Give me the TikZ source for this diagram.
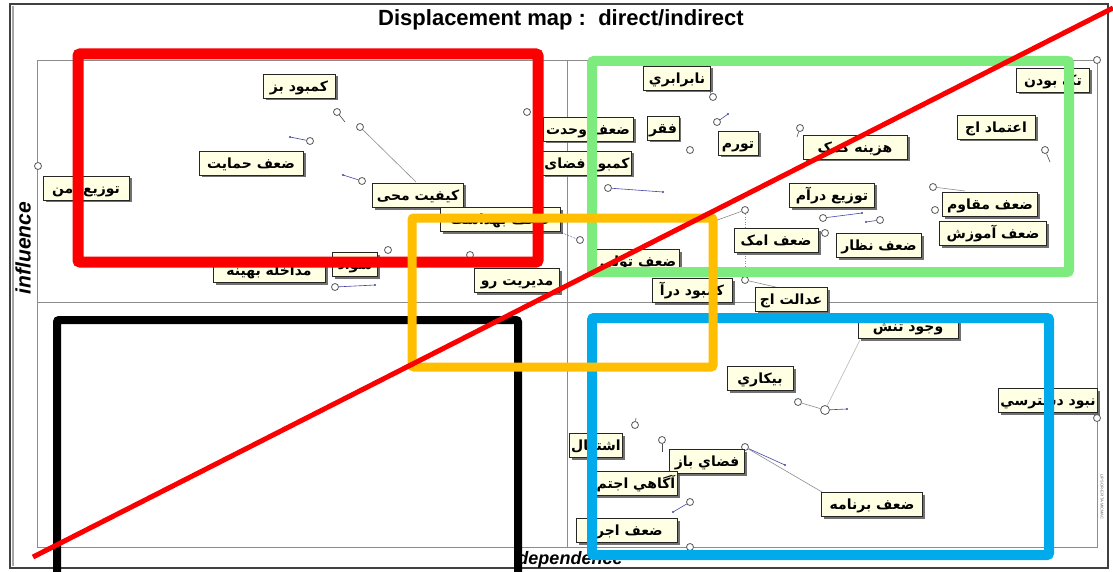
\documentclass[tikz,border=0pt]{standalone}
\usepackage{fontspec}
\setmainfont{Liberation Sans}
\newfontfamily\arabicfont[Script=Arabic]{DejaVu Sans}
\TeXXeTstate=1
\usetikzlibrary{shadows}
\definecolor{labfill}{RGB}{255,255,228}
\definecolor{mred}{RGB}{250,0,0}
\definecolor{mgreen}{RGB}{125,235,125}
\definecolor{morange}{RGB}{255,190,0}
\definecolor{mblue}{RGB}{0,170,235}
\definecolor{mnavy}{RGB}{70,70,170}
\tikzset{
 lab/.style={draw=black!85, line width=0.7pt, fill=labfill, minimum height=24pt, inner xsep=2pt, inner ysep=1pt,
   text height=13pt, text depth=2pt,
   font=\arabicfont\bfseries\fontsize{14}{16}\selectfont,
   drop shadow={shadow xshift=2.5pt, shadow yshift=-2.5pt, fill=black!65, opacity=0.85}},
 pnt/.style={circle, draw=black!65, fill=white, line width=0.8pt, inner sep=0pt, minimum size=7pt},
 lnk/.style={draw=black!45, line width=0.6pt},
 blk/.style={draw=mnavy, line width=0.6pt},
 zone/.style={line width=10pt, rounded corners=2pt},
 frm/.style={draw=black!45, line width=0.7pt},
}
\begin{document}
\begin{tikzpicture}[x=1pt,y=-1pt]
\useasboundingbox (0,0) rectangle (1113,572);
\fill[white] (0,0) rectangle (1113,572);
% outer frame
\draw[black!75, line width=1.5pt] (10,4) rectangle (1108,568);
\draw[black!35, line width=1.5pt] (13,6) -- (13,566);
% plot frame and mid lines
\draw[frm] (37,60) rectangle (1097,547);
\draw[frm] (567,60) -- (567,547);
\draw[frm] (37,302) -- (1097,302);
% title and axis labels
\node[font=\bfseries\fontsize{22}{24}\selectfont] (title) at (561,20) {Displacement map :\ \ direct/indirect};
\node[font=\bfseries\itshape\fontsize{21}{23}\selectfont, rotate=90] (infl) at (23,248) {influence};
\node[font=\bfseries\itshape\fontsize{18}{20}\selectfont] (dep) at (570,560) {dependence};
\node[font=\fontsize{4}{5}\selectfont, text=black!60, rotate=-90] (copy) at (1102,497) {LIPSOR-EPITA-MICMAC};
% points
\node[pnt] (pa) at (38,166) {};
\node[pnt] (pb) at (337,112) {};
\node[pnt] (pc) at (360,127) {};
\node[pnt] (pd) at (310,141) {};
\node[pnt] (pe) at (362,181) {};
\node[pnt] (pf) at (388,250) {};
\node[pnt] (pg) at (335,287) {};
\node[pnt] (ph) at (527,112) {};
\node[pnt] (pi) at (470,255) {};
\node[pnt] (pj) at (580,240) {};
\node[pnt] (pk) at (690,150) {};
\node[pnt] (pl) at (608,188) {};
\node[pnt] (pm) at (713,97) {};
\node[pnt] (pn) at (717,122) {};
\node[pnt] (po) at (800,128) {};
\node[pnt] (pp) at (1045,150) {};
\node[pnt] (pq) at (933,187) {};
\node[pnt] (pr) at (935,210) {};
\node[pnt] (ps) at (823,218) {};
\node[pnt] (pt2) at (880,220) {};
\node[pnt] (pu) at (825,233) {};
\node[pnt] (pv) at (745,210) {};
\node[pnt] (pw) at (745,280) {};
\node[pnt] (px) at (1097,60) {};
\node[pnt] (py) at (798,402) {};
\node[pnt, minimum size=9pt] (pz) at (825,410) {};
\node[pnt] (qa) at (635,425) {};
\node[pnt] (qb) at (662,440) {};
\node[pnt] (qc) at (745,447) {};
\node[pnt] (qd) at (690,502) {};
\node[pnt] (qe) at (690,547) {};
\node[pnt] (qf) at (1097,418) {};
% free ends
\coordinate (eb) at (345,122);
\coordinate (ec) at (416,182);
\coordinate (ed) at (290,137);
\coordinate (ee) at (343,175);
\coordinate (eg) at (375,285);
\coordinate (el) at (663,192);
\coordinate (en) at (728,114);
\coordinate (eo) at (797,137);
\coordinate (ep) at (1050,162);
\coordinate (eq) at (965,191);
\coordinate (es) at (862,213);
\coordinate (et) at (866,222);
\coordinate (ev) at (712,222);
\coordinate (ew) at (780,288);
\coordinate (ej) at (562,233);
\coordinate (em) at (708,88);
\coordinate (ez) at (847,409);
\coordinate (ez2) at (860,340);
\coordinate (ec2) at (822,492);
\coordinate (ec3) at (785,465);
\coordinate (eb2) at (662,452);
\coordinate (ed2) at (673,512);
\coordinate (ea2) at (636,418);
% links
\draw[lnk, draw=black!70] (pb) -- (eb);
\draw[lnk] (pc) -- (ec);
\draw[blk] (pd) -- (ed);
\draw[blk] (pe) -- (ee);
\draw[blk] (pg) -- (eg);
\draw[blk] (pl) -- (el);
\draw[blk] (pn) -- (en);
\draw[lnk, draw=black!70] (po) -- (eo);
\draw[lnk, draw=black!70] (pp) -- (ep);
\draw[lnk] (pq) -- (eq);
\draw[blk] (ps) -- (es);
\draw[blk] (pt2) -- (et);
\draw[lnk] (pv) -- (ev);
\draw[lnk, dotted] (pv) -- (pw);
\draw[lnk] (pw) -- (ew);
\draw[blk, densely dotted] (pj) -- (ej);
\draw[lnk, draw=black!70] (pm) -- (em);
\draw[lnk] (py) -- (pz);
\draw[blk] (pz) -- (ez);
\draw[lnk, draw=black!30] (pz) -- (ez2);
\draw[lnk] (qc) -- (ec2);
\draw[blk] (qc) -- (ec3);
\draw[lnk, draw=black!70] (qb) -- (eb2);
\draw[blk] (qd) -- (ed2);
\draw[lnk, draw=black!70] (qa) -- (ea2);
\foreach \e in {ed,ee,eg,el,en,es,et,ej,ez,ec3,ed2} \fill[mnavy] (\e) circle (1.2pt);
% labels
\node[lab, minimum width=72pt] (kb) at (299,86) {\beginR کمبود بز\endR};
\node[lab, minimum width=104pt] (zh) at (251,163) {\beginR ضعف حمایت\endR};
\node[lab, minimum width=86pt] (ta) at (86,188) {\beginR توزیع امن\endR};
\node[lab, minimum width=91pt] (km) at (418,195) {\beginR کیفیت محی\endR};
\node[lab, minimum width=120pt] (hx) at (500,219) {\beginR ضعف بهداشت\endR};
\node[lab, minimum width=112pt] (hy) at (269,270) {\beginR مداخله بهینه\endR};
\node[lab, minimum width=45pt] (hs) at (355,264) {\beginR سواد\endR};
\node[lab, minimum width=85pt] (mr) at (517,280) {\beginR مدیریت رو\endR};
\node[lab, minimum width=90pt] (zv) at (588,129) {\beginR ضعف وحدت\endR};
\node[lab, minimum width=87pt] (kf) at (587,163) {\beginR کمبود فضای\endR};
\node[lab, minimum width=30pt] (tq) at (663,128) {\beginR فقر\endR};
\node[lab, minimum width=67pt] (nb) at (677,78) {\beginR نابرابري\endR};
\node[lab, minimum width=40pt] (tv) at (738,143) {\beginR تورم\endR};
\node[lab, minimum width=104pt] (hz) at (855,147) {\beginR هزینه کمک\endR};
\node[lab, minimum width=78pt] (ea) at (996,127) {\beginR اعتماد اج\endR};
\node[lab, minimum width=73pt] (tb) at (1053,80) {\beginR تک بودن\endR};
\node[lab, minimum width=85pt] (td) at (832,195) {\beginR توزیع درآم\endR};
\node[lab, minimum width=95pt] (zm) at (990,204) {\beginR ضعف مقاوم\endR};
\node[lab, minimum width=107pt] (za) at (993,233) {\beginR ضعف آموزش\endR};
\node[lab, minimum width=85pt] (zn) at (879,245) {\beginR ضعف نظار\endR};
\node[lab, minimum width=84pt] (zk) at (776,240) {\beginR ضعف امک\endR};
\node[lab, minimum width=83pt] (zt) at (638,261) {\beginR ضعف تولی\endR};
\node[lab, minimum width=80pt] (kd) at (692,290) {\beginR کمبود درآ\endR};
\node[lab, minimum width=72pt] (ed) at (791,299) {\beginR عدالت اج\endR};
\node[lab, minimum width=100pt] (vt) at (908,326) {\beginR وجود تنش\endR};
\node[lab, minimum width=66pt] (bk) at (760,378) {\beginR بیکاري\endR};
\node[lab, minimum width=83pt] (ts) at (1048,400) {\beginR نبود دسترسي\endR};
\node[lab, minimum width=53pt] (as) at (596,445) {\beginR اشتغال\endR};
\node[lab, minimum width=75pt] (fb) at (707,461) {\beginR فضاي باز\endR};
\node[lab, minimum width=82pt] (ag) at (636,483) {\beginR آگاهي اجتم\endR};
\node[lab, minimum width=101pt] (zb) at (872,504) {\beginR ضعف برنامه\endR};
\node[lab, minimum width=101pt] (zj) at (627,530) {\beginR ضعف اجرا\endR};
% zones
\draw[zone, black, line width=8pt] (57,580) -- (57,320) -- (518,320) -- (518,580);
\draw[zone, mblue] (592,318) rectangle (1049,555);
\draw[zone, mgreen] (592,61) rectangle (1069,272);
\draw[zone, mred, line width=11pt] (78,54) rectangle (538,262);
\draw[zone, morange, line width=9pt] (412,218) rectangle (713,367);
% diagonal
\draw[mred, line width=5pt] (33,557) -- (1113,8);
\end{tikzpicture}
\end{document}
